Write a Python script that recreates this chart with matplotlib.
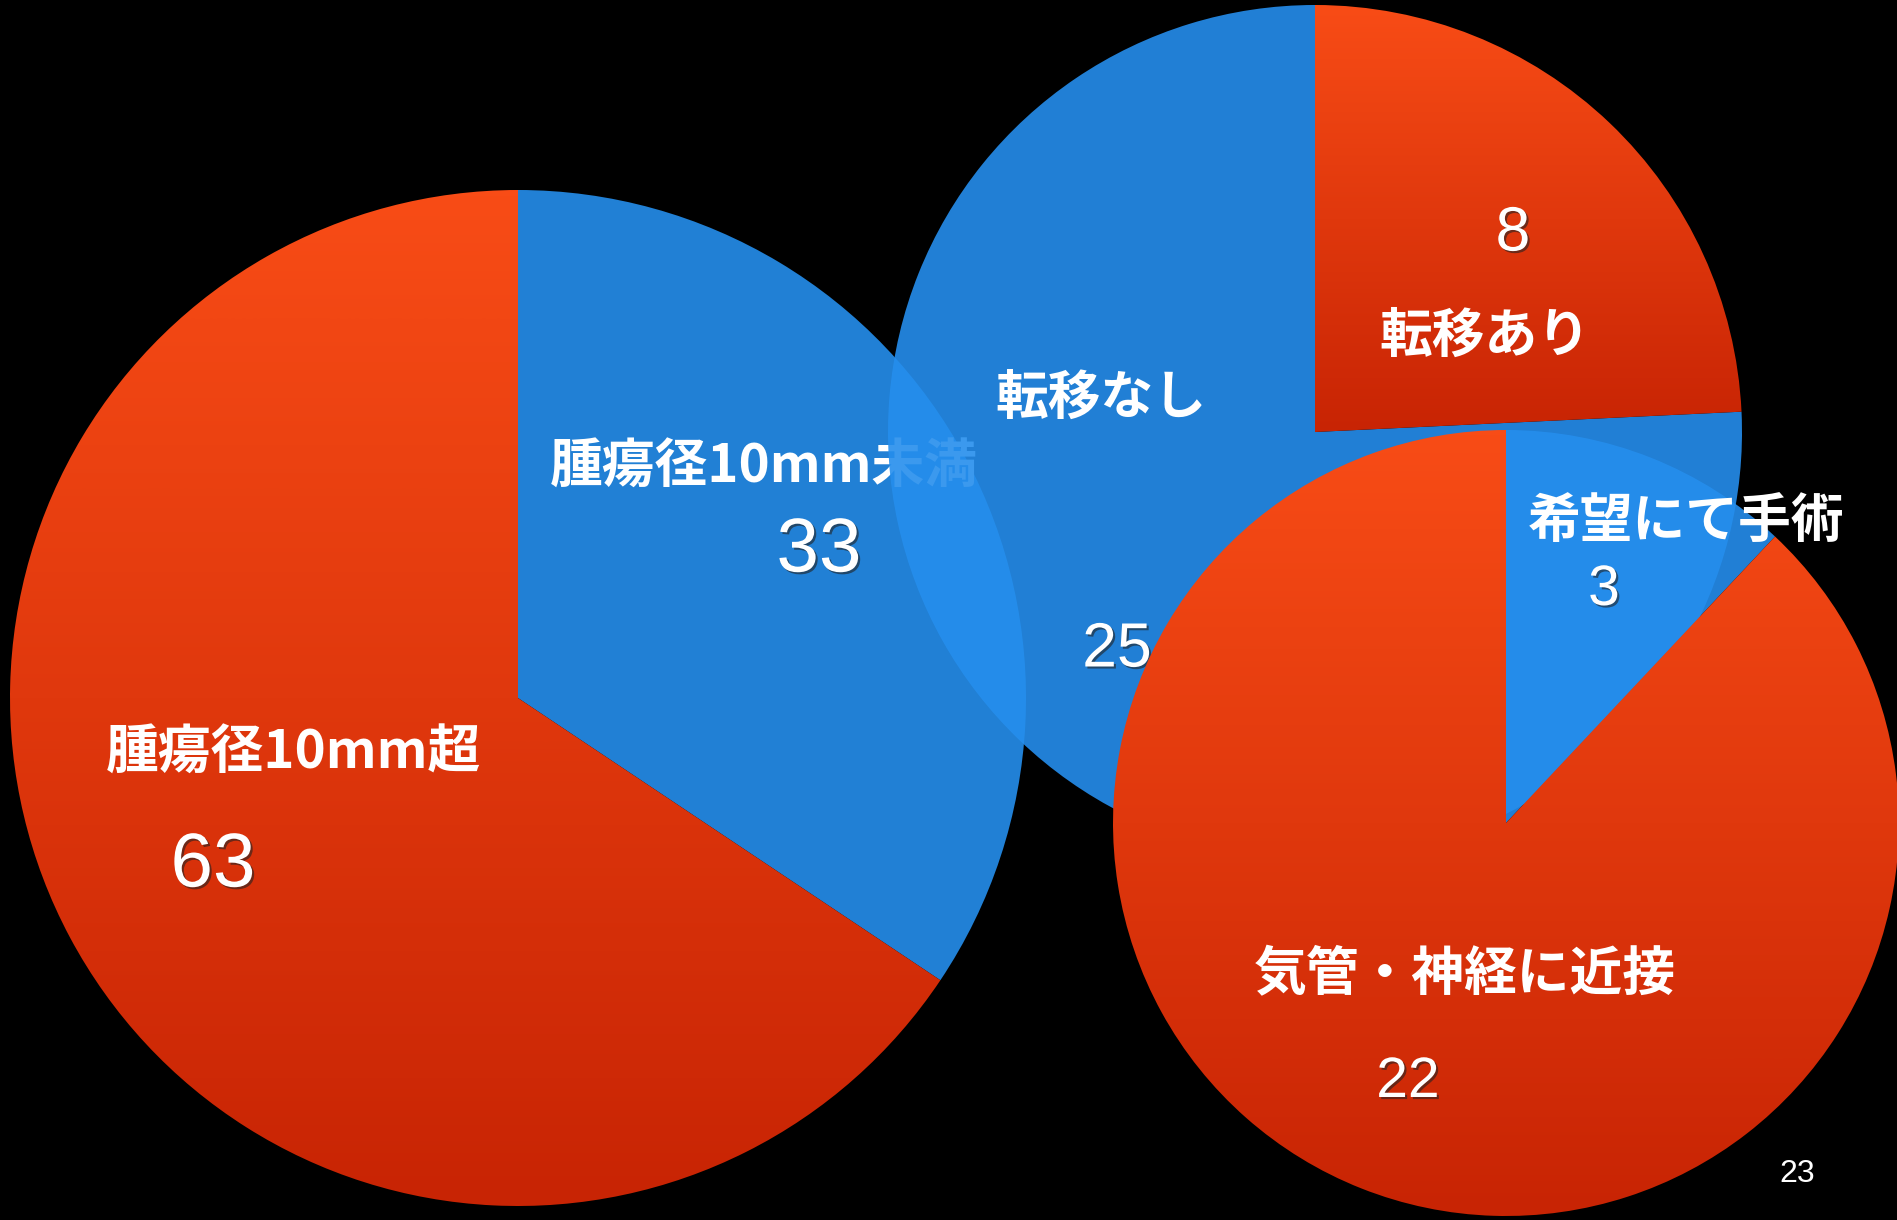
import numpy as np
import matplotlib.pyplot as plt
import matplotlib.patheffects as pe
from matplotlib.colors import LinearSegmentedColormap

# tumour size split
size_labels = ['腫瘍径10mm未満', '腫瘍径10mm超']
size_counts = [33, 63]
# metastasis split
meta_labels = ['転移あり', '転移なし']
meta_counts = [8, 25]
# reason for surgery
op_labels = ['希望にて手術', '気管・神経に近接']
op_counts = [3, 22]
page_number = '23'

W, H = 1897, 1220
BLUE = '#2180d5'
BLUE_OVER = '#258eed'   # upper pies are slightly see-through
red_grad = LinearSegmentedColormap.from_list('red_grad', ['#c82404', '#e0380d', '#f84c16'])

cjk = ['Noto Sans CJK JP', 'DejaVu Sans']
num_fx = [pe.withSimplePatchShadow(offset=(1.5, -1.5), shadow_rgbFace='#222222', alpha=0.6)]

fig = plt.figure(figsize=(W / 100, H / 100), dpi=100, facecolor='black')
ax = fig.add_axes([0, 0, 1, 1])
ax.set_facecolor('black')


def img(x, y):
    # positions measured from the top-left of the slide
    return (x, H - y)


def draw_pie(counts, colors, center, radius, z, blue_alpha=1.0):
    wedges, _ = ax.pie(counts, colors=[BLUE if c == 'blue' else 'none' for c in colors],
                       startangle=90, counterclock=False, center=img(*center),
                       radius=radius, frame=True, wedgeprops=dict(linewidth=0, zorder=z))
    for w, c in zip(wedges, colors):
        if c == 'blue':
            if blue_alpha < 1:
                w.set_facecolor(BLUE_OVER)
                w.set_alpha(blue_alpha)
            continue
        # vertical gradient over the wedge's own extent
        ext = w.get_path().get_extents()
        grad = np.linspace(0, 1, 256).reshape(-1, 1)
        im = ax.imshow(grad, extent=(ext.x0, ext.x1, ext.y0, ext.y1), origin='lower',
                       cmap=red_grad, aspect='auto', interpolation='bicubic', zorder=z)
        im.set_clip_path(w)
    return wedges


def label(text, pos, z, size=38):
    ax.text(*img(*pos), text, color='white', fontsize=size, fontweight='bold',
            family=cjk, ha='center', va='center', zorder=z)


def number(val, pos, z, size):
    ax.text(*img(*pos), str(val), color='white', fontsize=size, family='Liberation Sans',
            ha='center', va='center', zorder=z, path_effects=num_fx)


# left pie
draw_pie(size_counts, ['blue', 'red'], (518, 698), 508, z=1)
label(size_labels[0], (764, 467), 2)
number(size_counts[0], (819, 552), 2, 55)
label(size_labels[1], (293, 753), 2)
number(size_counts[1], (213, 867), 2, 55)

# middle pie
draw_pie(meta_counts, ['red', 'blue'], (1315, 432), 427, z=3, blue_alpha=0.9)
number(meta_counts[0], (1513, 234), 4, 45)
label(meta_labels[0], (1485, 336), 4)
label(meta_labels[1], (1101, 398), 4)
number(meta_counts[1], (1117, 650), 4, 45)

# right pie
draw_pie(op_counts, ['blue', 'red'], (1506, 823), 393, z=5, blue_alpha=0.9)
label(op_labels[0], (1686, 522), 6)
number(op_counts[0], (1604, 590), 6, 41)
label(op_labels[1], (1465, 975), 6)
number(op_counts[1], (1408, 1082), 6, 41)

ax.text(*img(1797, 1174), page_number, color='white', fontsize=23,
        family='Liberation Sans', ha='center', va='center')

ax.set_xlim(0, W)
ax.set_ylim(0, H)
ax.set_aspect('equal')
ax.axis('off')

fig.savefig('out.png', dpi=100, facecolor='black')
